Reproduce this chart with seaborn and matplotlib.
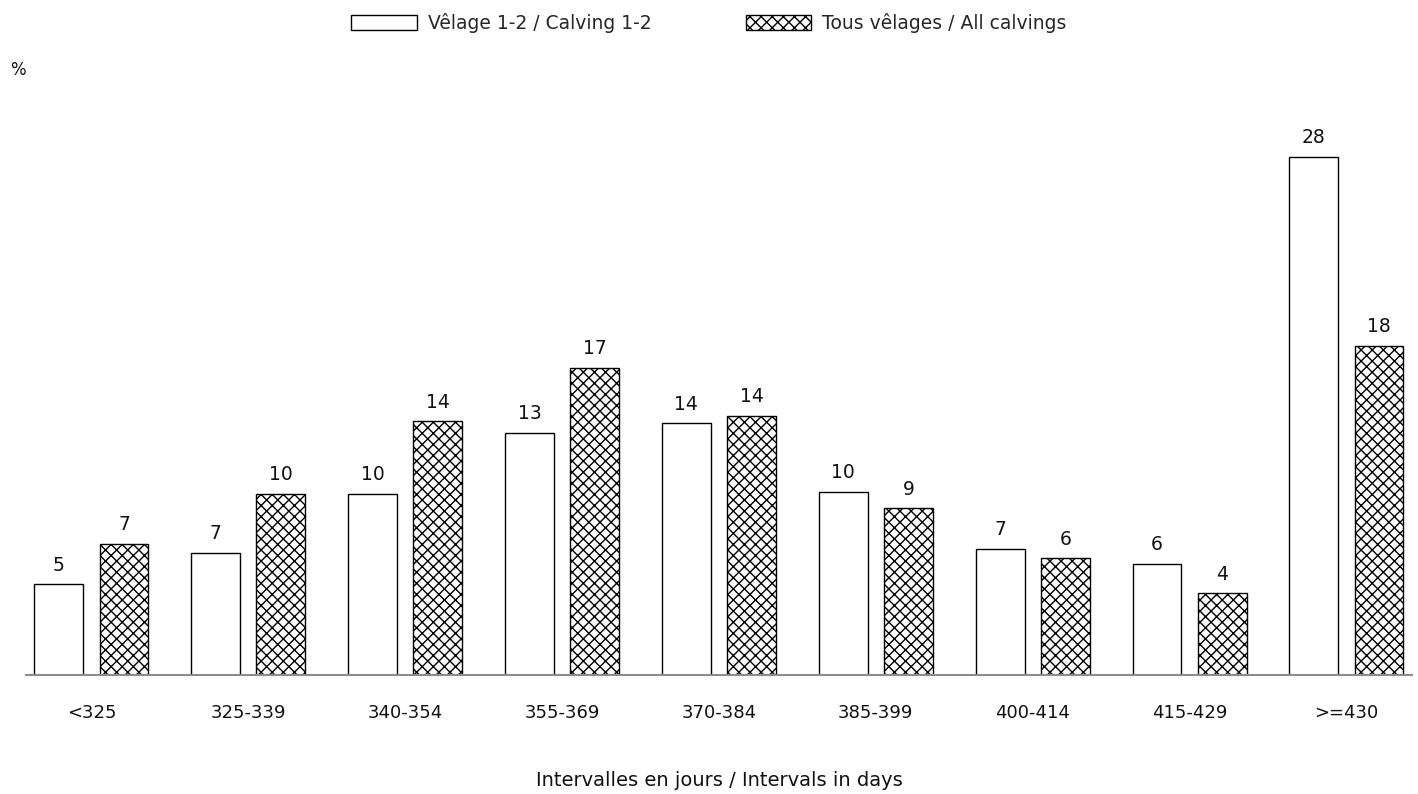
import numpy as np
import pandas as pd
import matplotlib
matplotlib.use("Agg")
import matplotlib.pyplot as plt
import seaborn as sns

# intervals between calvings (days) and share of cows (%)
intervals = ["<325", "325-339", "340-354", "355-369", "370-384",
             "385-399", "400-414", "415-429", ">=430"]
calving_12 = [4.9, 6.6, 9.8, 13.1, 13.6, 9.9, 6.8, 6.0, 28.0]
all_calvings = [7.1, 9.8, 13.7, 16.6, 14.0, 9.0, 6.3, 4.4, 17.8]
series = ["Vêlage 1-2 / Calving 1-2", "Tous vêlages / All calvings"]

df = pd.DataFrame({
    "interval": intervals * 2,
    "pct": calving_12 + all_calvings,
    "serie": [series[0]] * len(intervals) + [series[1]] * len(intervals),
})

sns.set_theme(style="white")
plt.rcParams["font.family"] = ["DejaVu Sans"]
plt.rcParams["hatch.linewidth"] = 1.0

fig = plt.figure(figsize=(14.18, 7.94), dpi=100)
ax = fig.add_axes([0.018, 0.150, 0.978, 0.699])

sns.barplot(data=df, x="interval", y="pct", hue="serie", order=intervals,
            hue_order=series, palette=["white", "white"], edgecolor="black",
            linewidth=1.0, width=0.83, gap=0.25, legend=False, ax=ax)

for p in ax.containers[1].patches:
    p.set_hatch("xxx")

for c in ax.containers:
    ax.bar_label(c, fmt="%.0f", padding=7, fontsize=13.5, color="#111111")

ax.set_xlim(-0.42, 8.42)
ax.set_ylim(0, 30)
ax.set_yticks([])
ax.set_ylabel("")
ax.tick_params(axis="x", length=0, pad=21, labelsize=13, colors="#111111")
ax.set_xlabel("Intervalles en jours / Intervals in days", fontsize=14,
              labelpad=35, color="#111111")
for s in ["top", "right", "left"]:
    ax.spines[s].set_visible(False)
ax.spines["bottom"].set_color("#8c8c8c")
ax.spines["bottom"].set_linewidth(1.5)

fig.text(0.007, 0.905, "%", fontsize=12, color="#111111")

fig.legend(handles=[ax.containers[0], ax.containers[1]], labels=series,
           loc="upper center", bbox_to_anchor=(0.5, 1.005), ncol=2,
           frameon=False, fontsize=13.5, handlelength=3.5, handleheight=0.9,
           handletextpad=0.6, columnspacing=5.0)

fig.savefig("out.png", dpi=100, facecolor="white")
